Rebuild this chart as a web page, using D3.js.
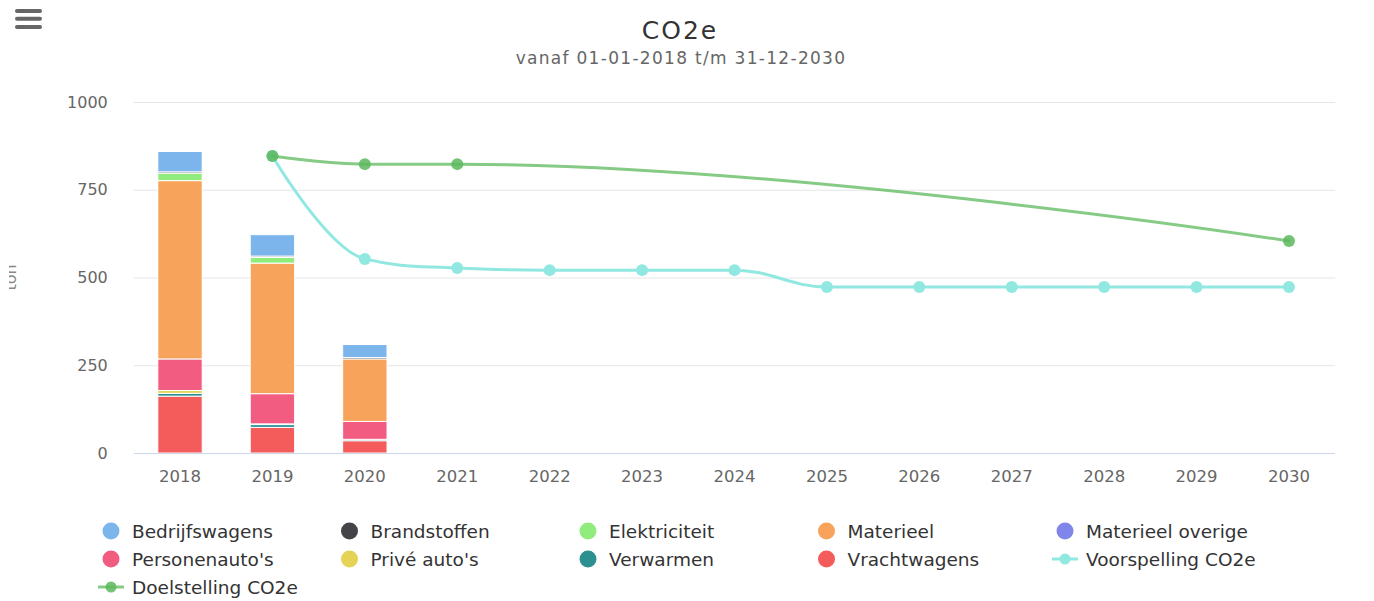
<!DOCTYPE html>
<html>
<head>
<meta charset="utf-8">
<script src="https://cdn.jsdelivr.net/npm/d3@7"></script>
<style>
  html, body { margin: 0; padding: 0; background: #fff; }
  svg { display: block; font-family: "DejaVu Sans", Verdana, sans-serif; }
</style>
</head>
<body>
<svg id="chart" width="1374" height="601"></svg>
<script>
// ---------------- DATA ----------------
const categories = ["2018","2019","2020","2021","2022","2023","2024","2025","2026","2027","2028","2029","2030"];
const yTicks = [0, 250, 500, 750, 1000];

const bedrijfswagens   = [58, 61, 37, null, null, null, null, null, null, null, null, null, null];
const brandstoffen     = [4, 4, 4, null, null, null, null, null, null, null, null, null, null];
const elektriciteit    = [21, 16, 0, null, null, null, null, null, null, null, null, null, null];
const materieel        = [508, 372, 178, null, null, null, null, null, null, null, null, null, null];
const materieelOverige = [0, 0, 0, null, null, null, null, null, null, null, null, null, null];
const personenautos    = [90, 86, 51, null, null, null, null, null, null, null, null, null, null];
const priveAutos       = [8, 2, 0, null, null, null, null, null, null, null, null, null, null];
const verwarmen        = [8, 8, 4, null, null, null, null, null, null, null, null, null, null];
const vrachtwagens     = [162, 73, 35, null, null, null, null, null, null, null, null, null, null];

const voorspelling = [null, 846, 553, 527, 521, 521, 521, 473, 473, 473, 473, 473, 473];
const doelstelling = [null, 846, 823, 823, null, null, null, null, null, null, null, null, 604];

const title = "CO2e";
const subtitle = "vanaf 01-01-2018 t/m 31-12-2030";
const yTitle = "ton";

// stack series (first = top of stack, as in legend order)
const barSeries = [
  { name: "Bedrijfswagens",   color: "#7cb5ec", values: bedrijfswagens },
  { name: "Brandstoffen",     color: "#434348", values: brandstoffen },
  { name: "Elektriciteit",    color: "#90ed7d", values: elektriciteit },
  { name: "Materieel",        color: "#f7a35c", values: materieel },
  { name: "Materieel overige",color: "#8085e9", values: materieelOverige },
  { name: "Personenauto's",   color: "#f15c80", values: personenautos },
  { name: "Privé auto's",     color: "#e4d354", values: priveAutos },
  { name: "Verwarmen",        color: "#2b908f", values: verwarmen },
  { name: "Vrachtwagens",     color: "#f45b5b", values: vrachtwagens }
];
const lineSeries = [
  { name: "Voorspelling CO2e", color: "#91e8e1", values: voorspelling, lineOpacity: 1, markerOpacity: 1 },
  { name: "Doelstelling CO2e", color: "#5cb85c", values: doelstelling, lineOpacity: 0.75, markerOpacity: 0.85 }
];

// ---------------- LAYOUT ----------------
const svg = d3.select("#chart");
const plot = { left: 133.8, right: 1335.2, top: 102, bottom: 453 };

const x = d3.scaleBand().domain(categories).range([plot.left, plot.right]).padding(0);
const y = d3.scaleLinear().domain([0, 1000]).range([plot.bottom, plot.top]);
const bw = x.bandwidth();
const barW = bw * 0.48;
const cx = c => x(c) + bw / 2;

// hamburger menu
const menu = svg.append("g").attr("transform", "translate(15,9)");
[0, 7.7, 16].forEach(dy => menu.append("rect").attr("x", 0).attr("y", dy).attr("width", 27).attr("height", 4).attr("rx", 2).attr("fill", "#666"));

// title
svg.append("text").attr("x", 680).attr("y", 38.5).attr("text-anchor", "middle")
  .attr("font-size", 25).attr("letter-spacing", 2).attr("fill", "#333").text(title);
svg.append("text").attr("x", 681).attr("y", 64).attr("text-anchor", "middle")
  .attr("font-size", 17).attr("letter-spacing", 1.3).attr("fill", "#666").text(subtitle);

// grid
const grid = svg.append("g").attr("transform", `translate(${plot.left},0)`)
  .call(d3.axisLeft(y).tickValues(yTicks).tickSize(-(plot.right - plot.left)).tickFormat(""));
grid.select(".domain").remove();
grid.selectAll("line").attr("stroke", "#e6e6e6").attr("stroke-width", 1);
grid.selectAll(".tick").filter(d => d === 0).remove();

// y labels
const yAxis = svg.append("g").attr("transform", `translate(${plot.left},0)`)
  .call(d3.axisLeft(y).tickValues(yTicks).tickSize(0).tickPadding(26).tickFormat(d3.format("d")));
yAxis.select(".domain").remove();
yAxis.selectAll("text").attr("font-size", 16).attr("fill", "#666").attr("font-family", "DejaVu Sans, sans-serif");

// y title (clipped at left edge)
svg.append("clipPath").attr("id", "ytclip").append("rect").attr("x", 9).attr("y", 0).attr("width", 40).attr("height", 601);
svg.append("g").attr("clip-path", "url(#ytclip)")
  .append("text").attr("transform", `translate(16,${(plot.top + plot.bottom) / 2}) rotate(-90)`)
  .attr("text-anchor", "middle").attr("font-size", 16).attr("fill", "#888").text(yTitle);

// bars
const barsG = svg.append("g");
categories.forEach((c, i) => {
  let acc = 0;
  for (let s = barSeries.length - 1; s >= 0; s--) {
    const v = barSeries[s].values[i];
    if (v == null || v === 0) continue;
    const y0 = y(acc), y1 = y(acc + v);
    barsG.append("rect")
      .attr("x", cx(c) - barW / 2).attr("y", y1)
      .attr("width", barW).attr("height", y0 - y1)
      .attr("fill", barSeries[s].color)
      .attr("stroke", "#fff").attr("stroke-width", 1);
    acc += v;
  }
});

// x axis
const xAxis = svg.append("g").attr("transform", `translate(0,${plot.bottom})`)
  .call(d3.axisBottom(x).tickSize(0).tickPadding(17));
xAxis.select(".domain").attr("stroke", "#ccd6eb").attr("d", `M${plot.left},0.5H${plot.right}`);
xAxis.selectAll("text").attr("font-size", 16.5).attr("fill", "#666").attr("font-family", "DejaVu Sans, sans-serif");

// Highcharts-like spline
function splinePath(pts) {
  const p = d3.path();
  const sm = 1.5, den = sm + 1;
  const ctrl = pts.map((pt, i) => {
    const prev = pts[i - 1], next = pts[i + 1];
    if (!prev || !next) return null;
    let lx = (sm * pt[0] + prev[0]) / den, ly = (sm * pt[1] + prev[1]) / den;
    let rx = (sm * pt[0] + next[0]) / den, ry = (sm * pt[1] + next[1]) / den;
    let corr = 0;
    if (rx !== lx) corr = ((ry - ly) * (rx - pt[0])) / (rx - lx) + pt[1] - ry;
    ly += corr; ry += corr;
    if (ly > prev[1] && ly > pt[1]) { ly = Math.max(prev[1], pt[1]); ry = 2 * pt[1] - ly; }
    else if (ly < prev[1] && ly < pt[1]) { ly = Math.min(prev[1], pt[1]); ry = 2 * pt[1] - ly; }
    if (ry > next[1] && ry > pt[1]) { ry = Math.max(next[1], pt[1]); ly = 2 * pt[1] - ry; }
    else if (ry < next[1] && ry < pt[1]) { ry = Math.min(next[1], pt[1]); ly = 2 * pt[1] - ry; }
    return { lx, ly, rx, ry };
  });
  p.moveTo(pts[0][0], pts[0][1]);
  for (let i = 1; i < pts.length; i++) {
    const a = ctrl[i - 1], b = ctrl[i];
    p.bezierCurveTo(a ? a.rx : pts[i - 1][0], a ? a.ry : pts[i - 1][1],
                    b ? b.lx : pts[i][0], b ? b.ly : pts[i][1],
                    pts[i][0], pts[i][1]);
  }
  return p.toString();
}

// lines
lineSeries.forEach(s => {
  const pts = categories.map((c, i) => s.values[i] == null ? null : [cx(c), y(s.values[i])]).filter(Boolean);
  const g = svg.append("g");
  g.append("path").attr("d", splinePath(pts)).attr("fill", "none")
    .attr("stroke", s.color).attr("stroke-width", 3).attr("stroke-opacity", s.lineOpacity)
    .attr("stroke-linejoin", "round").attr("stroke-linecap", "round");
  g.selectAll("circle").data(pts).join("circle")
    .attr("cx", d => d[0]).attr("cy", d => d[1]).attr("r", 6)
    .attr("fill", s.color).attr("fill-opacity", s.markerOpacity);
});

// legend
const legendItems = barSeries.map(s => ({ name: s.name, color: s.color, type: "bar" }))
  .concat(lineSeries.map(s => ({ name: s.name, color: s.color, type: "line", op: s.lineOpacity, mop: s.markerOpacity })));
const legend = svg.append("g");
legendItems.forEach((it, i) => {
  const col = i % 5, row = Math.floor(i / 5);
  const lx = 111 + col * 238.5, ly = 531 + row * 28;
  const g = legend.append("g").attr("transform", `translate(${lx},${ly})`);
  if (it.type === "bar") {
    g.append("circle").attr("r", 8.5).attr("fill", it.color);
  } else {
    g.append("path").attr("d", "M-13,0H13").attr("stroke", it.color).attr("stroke-width", 3).attr("stroke-opacity", it.op);
    g.append("circle").attr("r", 5.5).attr("fill", it.color).attr("fill-opacity", it.mop);
  }
  g.append("text").attr("x", 21).attr("y", 6.5).attr("font-size", 18.5).attr("fill", "#333").text(it.name);
});
</script>
</body>
</html>
